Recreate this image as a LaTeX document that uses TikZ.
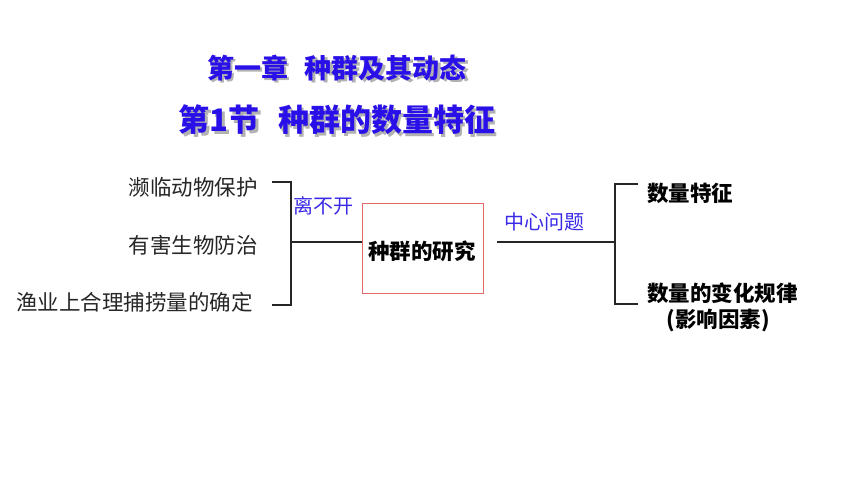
\documentclass[tikz,border=0pt]{standalone}
\usepackage{fontspec}
\newfontfamily\cjk{Noto Sans CJK SC}
\definecolor{titleblue}{HTML}{2A10E8}
\definecolor{labelblue}{HTML}{3A2AE8}
\definecolor{boxred}{HTML}{E06A6A}
\newcommand{\shadowed}[1]{\rlap{\hspace{2.5pt}\raisebox{-2.5pt}{\textcolor{gray!60}{#1}}}\textcolor{titleblue}{#1}}
\tikzset{
  plain/.style={font=\cjk\fontsize{21.5}{24}\selectfont, inner sep=0pt, text=black!85},
  boldtxt/.style={font=\cjk\bfseries\fontsize{21.5}{24}\selectfont, inner sep=0pt, text=black},
  bluelbl/.style={font=\cjk\fontsize{20}{22}\selectfont, inner sep=0pt, text=labelblue},
  conn/.style={line width=1.4pt, black!85},
}
\begin{document}
\begin{tikzpicture}[x=1pt,y=-1pt]
\useasboundingbox (0,0) rectangle (860,484);
\fill[white] (0,0) rectangle (860,484);
% titles with shadow
\node[font=\cjk\bfseries\fontsize{27}{30}\selectfont, inner sep=0pt] (t1) at (337,69) {\shadowed{第一章\hspace{0.6em}种群及其动态}};
\node[font=\cjk\bfseries\fontsize{31}{34}\selectfont, inner sep=0pt] (t2) at (337,121) {\shadowed{第1节\hspace{0.6em}种群的数量特征}};
% left items
\node[plain, anchor=east] (a) at (258,187) {濒临动物保护};
\node[plain, anchor=east] (b) at (258,245) {有害生物防治};
\node[plain, anchor=east] (c) at (253,302) {渔业上合理捕捞量的确定};
% bracket
\coordinate (la) at (272,182);
\coordinate (lc) at (272,305);
\coordinate (lm) at (291,242);
\draw[conn] (la) -- (291,182) -- (291,305) -- (lc);
% central box
\node[draw=boxred, line width=0.9pt, minimum width=121pt, minimum height=90pt, inner sep=0pt] (box) at (422.5,248) {};
\node[boldtxt] (boxt) at (422,251) {种群的研究};
\draw[conn] (lm) -- (box.west |- lm);
\node[bluelbl] (l1) at (323,206) {离不开};
% right side
\coordinate (rs) at (497,242);
\coordinate (rm) at (615,242);
\draw[conn] (rs) -- (rm);
\node[bluelbl] (l2) at (544,222) {中心问题};
\coordinate (r1) at (638,184);
\coordinate (r2) at (638,304);
\draw[conn] (r1) -- (615,184) -- (615,304) -- (r2);
\node[boldtxt, anchor=west] (d1) at (647,193) {数量特征};
\node[boldtxt, anchor=west] (d2) at (647,293) {数量的变化规律};
\node[boldtxt] (d3) at (718,320) {(影响因素)};
\end{tikzpicture}
\end{document}
